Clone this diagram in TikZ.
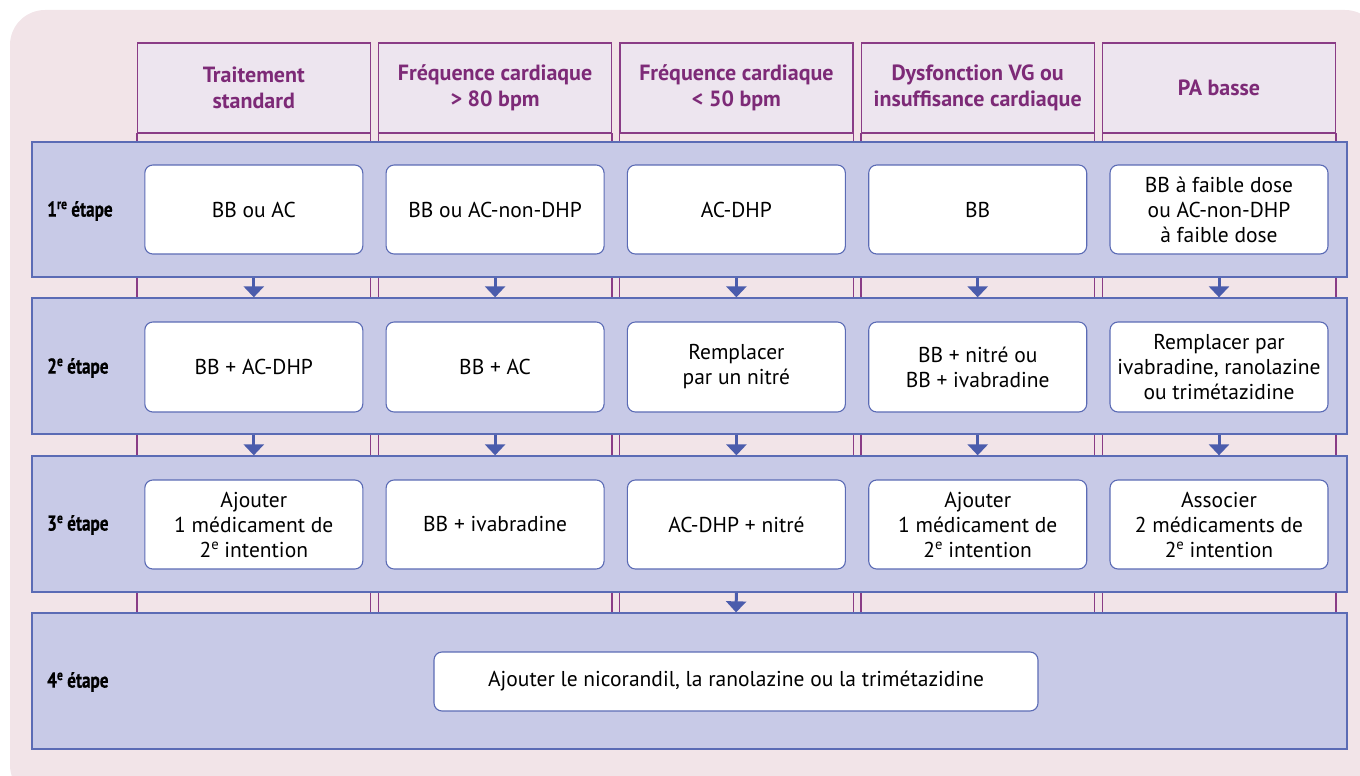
\documentclass[tikz,border=0pt]{standalone}
\usepackage{fontspec}
\setmainfont{PT Sans}
\newfontfamily\stepfont[FakeStretch=0.8,FakeBold=0.6]{PT Sans}
\usetikzlibrary{arrows.meta}
\definecolor{bgpink}{HTML}{F2E4E8}
\definecolor{hdrfill}{HTML}{EDE5EF}
\definecolor{hdrline}{HTML}{8A3C86}
\definecolor{hdrtext}{HTML}{7D2A77}
\definecolor{bandfill}{HTML}{C8CAE7}
\definecolor{bandline}{HTML}{5B6BB5}
\definecolor{arrowc}{HTML}{4B5CAC}
\newcommand\supr[1]{\raisebox{0.7ex}{\scalebox{0.68}{#1}}}
\begin{document}
\begin{tikzpicture}[x=1pt,y=-1pt,
 hdr/.style={draw=hdrline, line width=1.3pt, fill=hdrfill, minimum width=233pt, minimum height=90pt, inner sep=0pt, align=center, text=hdrtext, font=\fontsize{22}{25.5}\selectfont\bfseries},
 band/.style={draw=bandline, line width=1.3pt, fill=bandfill, minimum width=1315pt, minimum height=135pt, inner sep=0pt},
 box/.style={draw=bandline, line width=1.1pt, fill=white, rounded corners=8pt, minimum width=218pt, minimum height=89pt, inner sep=0pt, align=center, font=\fontsize{21.5}{25}\selectfont},
 steplbl/.style={anchor=west, inner sep=0pt, font=\stepfont\fontsize{21.5}{24}\selectfont\bfseries},
 arr/.style={draw=arrowc, line width=3pt, -{Triangle[width=20pt,length=11pt]}},
 col/.style={draw=hdrline, line width=1.2pt}
]
\useasboundingbox (0,0) rectangle (1360,776);
\fill[bgpink, rounded corners=35pt] (10,10) rectangle (1380,800);

% column guide lines
\foreach \l in {137,378.3,619.6,860.9,1102.2}{
  \draw[col] (\l,133) -- (\l,613);
  \draw[col] (\l+233.7,133) -- (\l+233.7,613);
}

% headers
\node[hdr] (h1) at (253.8,88) {Traitement\\standard};
\node[hdr] (h2) at (495.1,88) {Fréquence cardiaque\\> 80 bpm};
\node[hdr] (h3) at (736.4,88) {Fréquence cardiaque\\< 50 bpm};
\node[hdr] (h4) at (977.7,88) {Dysfonction VG ou\\insuffisance cardiaque};
\node[hdr] (h5) at (1219,88) {PA basse};

% bands
\node[band] (band1) at (689.5,209.5) {};
\node[band, minimum height=136pt] (band2) at (689.5,366) {};
\node[band, minimum height=136pt] (band3) at (689.5,524) {};
\node[band, minimum height=136pt] (band4) at (689.5,681) {};

% step labels
\node[steplbl] (s1) at (47,211) {1\supr{re} étape};
\node[steplbl] (s2) at (47,368) {2\supr{e} étape};
\node[steplbl] (s3) at (47,525) {3\supr{e} étape};
\node[steplbl] (s4) at (47,682) {4\supr{e} étape};

% band 1 boxes
\node[box] (a1) at (253.8,209.5) {BB ou AC};
\node[box] (a2) at (495.1,209.5) {BB ou AC-non-DHP};
\node[box] (a3) at (736.4,209.5) {AC-DHP};
\node[box] (a4) at (977.7,209.5) {BB};
\node[box] (a5) at (1219,209.5) {BB à faible dose\\ou AC-non-DHP\\à faible dose};

% band 2 boxes
\node[box, minimum height=90pt] (b1) at (253.8,367) {BB + AC-DHP};
\node[box, minimum height=90pt] (b2) at (495.1,367) {BB + AC};
\node[box, minimum height=90pt] (b3) at (736.4,367) {Remplacer\\par un nitré};
\node[box, minimum height=90pt] (b4) at (977.7,367) {BB + nitré ou\\BB + ivabradine};
\node[box, minimum height=90pt] (b5) at (1219,367) {Remplacer par\\ivabradine, ranolazine\\ou trimétazidine};

% band 3 boxes
\node[box] (c1) at (253.8,524.5) {Ajouter\\1 médicament de\\2\supr{e} intention};
\node[box] (c2) at (495.1,524.5) {BB + ivabradine};
\node[box] (c3) at (736.4,524.5) {AC-DHP + nitré};
\node[box] (c4) at (977.7,524.5) {Ajouter\\1 médicament de\\2\supr{e} intention};
\node[box] (c5) at (1219,524.5) {Associer\\2 médicaments de\\2\supr{e} intention};

% band 4 box
\node[box, minimum width=604pt, minimum height=59pt] (d1) at (736,681.5) {Ajouter le nicorandil, la ranolazine ou la trimétazidine};

% arrows
\foreach \n in {1,...,5}{
  \draw[arr] (a\n.south |- band1.south) -- (a\n.south |- band2.north);
  \draw[arr] (b\n.south |- band2.south) -- (b\n.south |- band3.north);
}
\draw[arr] (c3.south |- band3.south) -- (d1.north |- band4.north);
\end{tikzpicture}
\end{document}
